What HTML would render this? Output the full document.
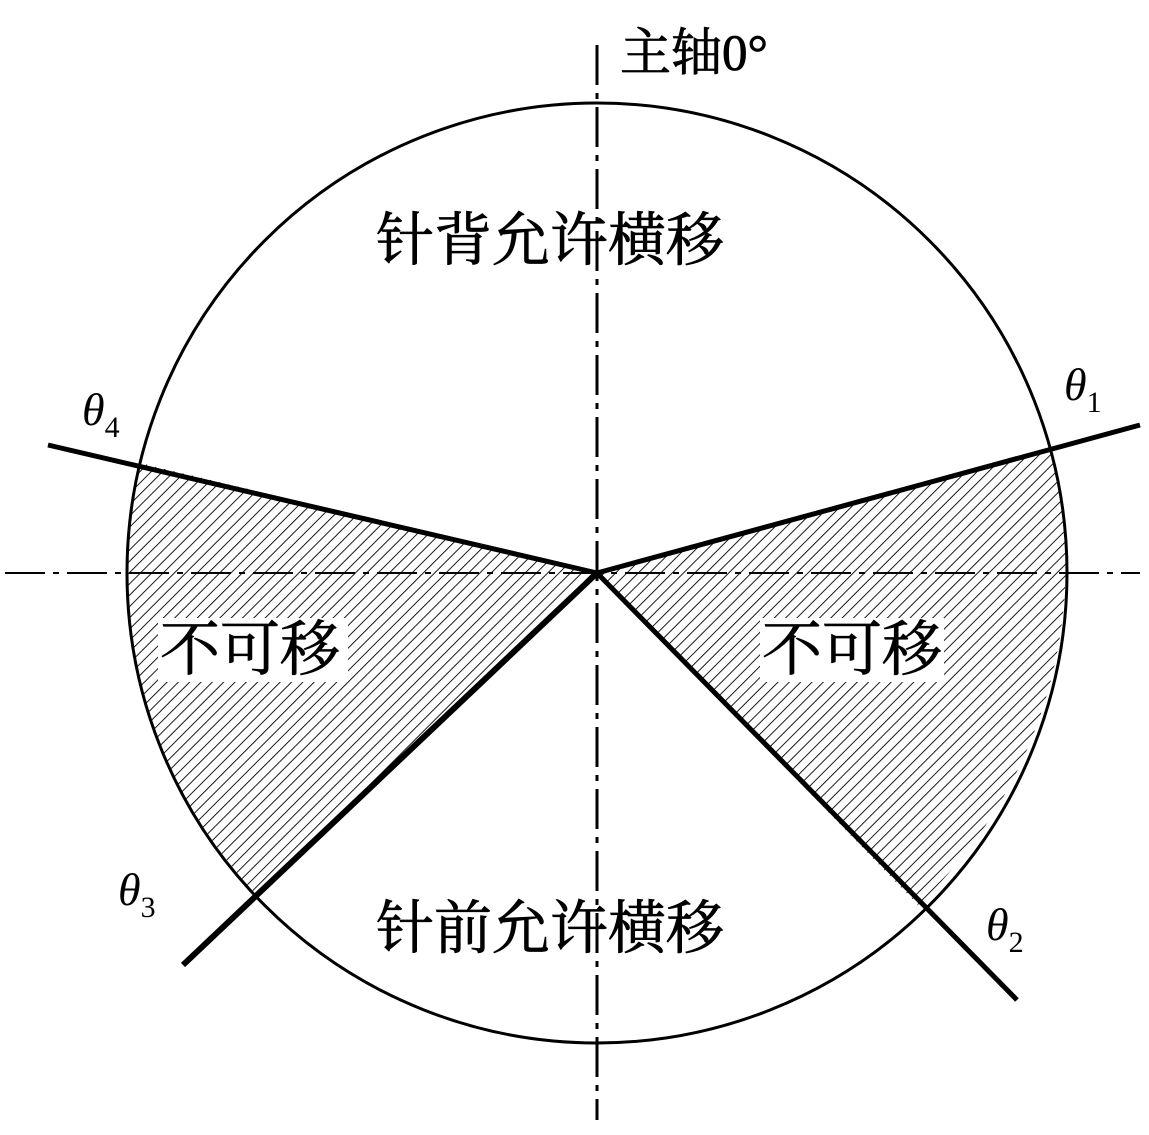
<!DOCTYPE html>
<html><head><meta charset="utf-8"><style>
html,body{margin:0;padding:0;background:#fff;}
svg{display:block;}
text{font-family:"Liberation Serif","Noto Serif CJK SC",serif;fill:#000;}
.c{stroke:#000;stroke-width:0.8px;}
</style></head><body>
<svg width="1149" height="1135" viewBox="0 0 1149 1135" xmlns="http://www.w3.org/2000/svg">
<defs>
<pattern id="h" patternUnits="userSpaceOnUse" width="8" height="8" patternTransform="rotate(45)">
<line x1="0" y1="0" x2="0" y2="8" stroke="#000" stroke-width="1.8"/>
</pattern>
</defs>
<path d="M597,573 L140,463 A470,470 0 0 0 255,893 Z" fill="url(#h)"/>
<path d="M597,573 L1052,450 A470,470 0 0 1 918,905 Z" fill="url(#h)"/>
<circle cx="597" cy="573" r="470" fill="none" stroke="#000" stroke-width="3"/>
<line x1="597" y1="45" x2="597" y2="1120" stroke="#000" stroke-width="3" stroke-dasharray="40,8,6,8"/>
<line x1="5" y1="573" x2="1140" y2="573" stroke="#000" stroke-width="2" stroke-dasharray="40,8,6,8"/>
<line x1="597" y1="573" x2="1140" y2="425" stroke="#000" stroke-width="5"/>
<line x1="597" y1="573" x2="48" y2="445" stroke="#000" stroke-width="5"/>
<line x1="597" y1="573" x2="183" y2="965" stroke="#000" stroke-width="6"/>
<line x1="597" y1="573" x2="1017" y2="1000" stroke="#000" stroke-width="5"/>
<rect x="158" y="618" width="190" height="64" fill="#fff"/>
<rect x="760" y="618" width="184" height="64" fill="#fff"/>
<text class="c" x="620" y="70" font-size="51">主轴0°</text>
<text class="c" x="376" y="260" font-size="58">针背允许横移</text>
<text class="c" x="376" y="948" font-size="58">针前允许横移</text>
<text class="c" x="160" y="670" font-size="60">不可移</text>
<text class="c" x="762" y="670" font-size="60">不可移</text>
<text x="82" y="425" font-size="46" font-style="italic">θ<tspan font-size="30" font-style="normal" dy="12">4</tspan></text>
<text x="1064" y="400" font-size="46" font-style="italic">θ<tspan font-size="30" font-style="normal" dy="12">1</tspan></text>
<text x="118" y="905" font-size="46" font-style="italic">θ<tspan font-size="30" font-style="normal" dy="12">3</tspan></text>
<text x="986" y="940" font-size="46" font-style="italic">θ<tspan font-size="30" font-style="normal" dy="12">2</tspan></text>
</svg>
</body></html>
